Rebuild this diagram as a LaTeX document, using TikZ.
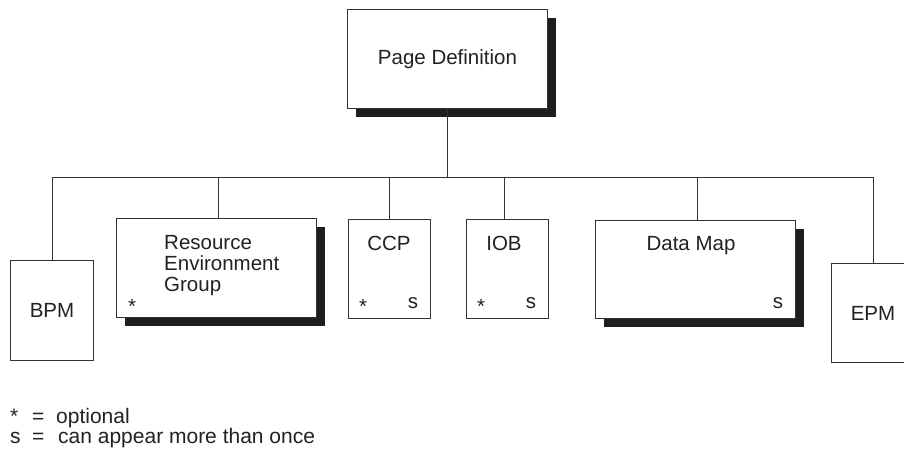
\documentclass[tikz,border=0pt]{standalone}
\usepackage{fontspec}
\setmainfont{Liberation Sans}
\usetikzlibrary{shadows,calc}
\definecolor{linec}{HTML}{333333}
\definecolor{shadowc}{HTML}{1E1E1E}
\definecolor{textc}{HTML}{222222}
\begin{document}
\begin{tikzpicture}[x=1pt,y=-1pt,
  every node/.style={text=textc, font=\fontsize{20.5}{21}\selectfont},
  box/.style={draw=linec, line width=1pt, fill=white, anchor=north west, inner sep=0pt},
  shbox/.style={box, drop shadow={shadow xshift=8pt, shadow yshift=-8pt, opacity=1, fill=shadowc}},
  txt/.style={inner sep=0pt, anchor=base},
  legtxt/.style={inner sep=0pt, anchor=base west, font=\fontsize{21}{21}\selectfont},
  conn/.style={draw=linec, line width=1pt}]
\useasboundingbox (0,0) rectangle (904,450);
\clip (0,0) rectangle (904,450);
% boxes
\node[shbox, minimum width=200pt, minimum height=99pt] (pd) at (347,9) {Page Definition};
\node[box, minimum width=83pt, minimum height=100pt] (bpm) at (10,260) {BPM};
\node[shbox, minimum width=200pt, minimum height=99pt] (reg) at (116,218) {};
\node[box, minimum width=82pt, minimum height=99pt] (ccp) at (348,219) {};
\node[box, minimum width=82pt, minimum height=99pt] (iob) at (466,219) {};
\node[shbox, minimum width=200pt, minimum height=98pt] (dm) at (595,220) {};
\node[box, minimum width=83pt, minimum height=99pt] (epm) at (831,263) {EPM};
% texts in boxes
\node[inner sep=0pt, anchor=north west, align=left] (regt) at (164,235.3) {Resource\\Environment\\Group};
\node[txt] (ccpt) at (389,250) {CCP};
\node[txt] (iobt) at (504,250) {IOB};
\node[txt] (dmt) at (691,250) {Data Map};
\node[txt] (regs) at (132,313) {*};
\node[txt] (ccps) at (363,313) {*};
\node[txt] (ccpm) at (413,308) {s};
\node[txt] (iobs) at (481,313) {*};
\node[txt] (iobm) at (531,308) {s};
\node[txt] (dmm) at (778,308) {s};
% connectors
\coordinate (bus) at (450,177);
\draw[conn] (pd.south) -- (pd.south |- bus);
\draw[conn] (bpm.north) -- (bpm.north |- bus) -- (epm.north |- bus) -- (epm.north);
\draw[conn] ([xshift=2pt]reg.north) -- ([xshift=2pt]reg.north |- bus);
\draw[conn] (ccp.north) -- (ccp.north |- bus);
\draw[conn] ([xshift=-3pt]iob.north) -- ([xshift=-3pt]iob.north |- bus);
\draw[conn] ([xshift=2pt]dm.north) -- ([xshift=2pt]dm.north |- bus);
% legend
\node[legtxt] (leg1) at (10,423) {\makebox[22pt][l]{*}\makebox[24pt][l]{=}optional};
\node[legtxt] (leg2) at (10,443) {\makebox[22pt][l]{s}\makebox[26pt][l]{=}can appear more than once};
\end{tikzpicture}
\end{document}
